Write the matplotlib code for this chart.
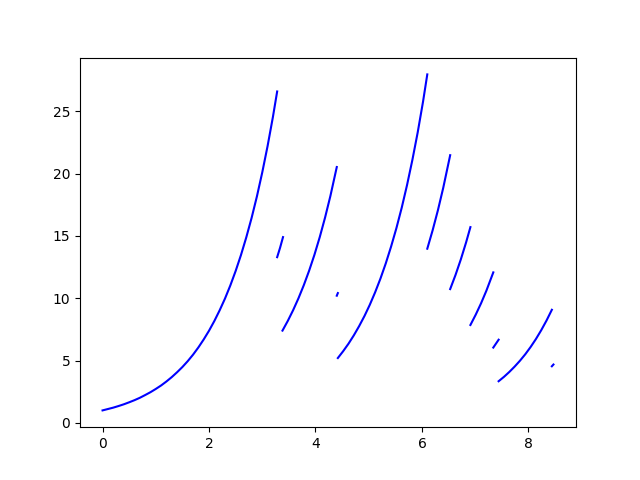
import matplotlib
matplotlib.use("Agg")
import matplotlib.pyplot as plt

# values, one list pair per continuous piece
t1 = [0.0, 0.1, 0.2, 0.3, 0.4, 0.5, 0.6, 0.7, 0.8, 0.9, 1.0, 1.1, 1.2, 1.3, 1.4, 1.5, 1.6,
      1.7, 1.8, 1.9, 2.0, 2.1, 2.2, 2.3, 2.4, 2.5, 2.6, 2.7, 2.8, 2.9, 3.0, 3.1, 3.2, 3.28]
y1 = [1.0, 1.11, 1.22, 1.35, 1.49, 1.65, 1.82, 2.01, 2.23, 2.46, 2.72, 3.0, 3.32, 3.67, 4.06,
      4.48, 4.95, 5.47, 6.05, 6.69, 7.39, 8.17, 9.03, 9.97, 11.02, 12.18, 13.46, 14.88, 16.44,
      18.17, 20.09, 22.2, 24.53, 26.58]

t2 = [3.28, 3.335, 3.39]
y2 = [13.29, 14.05, 14.9]

t3 = [3.38, 3.48, 3.58, 3.68, 3.78, 3.88, 3.98, 4.08, 4.18, 4.28, 4.40]
y3 = [7.40, 8.18, 9.04, 9.99, 11.04, 12.2, 13.48, 14.9, 16.47, 18.2, 20.52]

t4 = [4.40, 4.42]
y4 = [10.2, 10.41]

t5 = [4.42, 4.52, 4.62, 4.72, 4.82, 4.92, 5.02, 5.12, 5.22, 5.32, 5.42, 5.52, 5.62,
      5.72, 5.82, 5.92, 6.02, 6.10]
y5 = [5.20, 5.75, 6.35, 7.02, 7.76, 8.57, 9.47, 10.47, 11.57, 12.79, 14.14, 15.62, 17.26,
      19.08, 21.09, 23.30, 25.76, 27.95]

t6 = [6.10, 6.20, 6.30, 6.40, 6.53]
y6 = [13.97, 15.44, 17.06, 18.86, 21.47]

t7 = [6.53, 6.63, 6.73, 6.83, 6.91]
y7 = [10.73, 11.86, 13.11, 14.49, 15.7]

t8 = [6.91, 7.01, 7.11, 7.21, 7.34]
y8 = [7.85, 8.68, 9.59, 10.6, 12.07]

t9 = [7.34, 7.44]
y9 = [6.04, 6.67]

t10 = [7.44, 7.54, 7.64, 7.74, 7.84, 7.94, 8.04, 8.14, 8.24, 8.34, 8.44]
y10 = [3.34, 3.69, 4.08, 4.51, 4.98, 5.5, 6.08, 6.72, 7.43, 8.21, 9.07]

t11 = [8.44, 8.47]
y11 = [4.54, 4.68]

pieces = [(t1, y1), (t2, y2), (t3, y3), (t4, y4), (t5, y5), (t6, y6),
          (t7, y7), (t8, y8), (t9, y9), (t10, y10), (t11, y11)]

fig, ax = plt.subplots(figsize=(6.4, 4.8), dpi=100)
for t, y in pieces:
    ax.plot(t, y, "b")

fig.savefig("out.png")
